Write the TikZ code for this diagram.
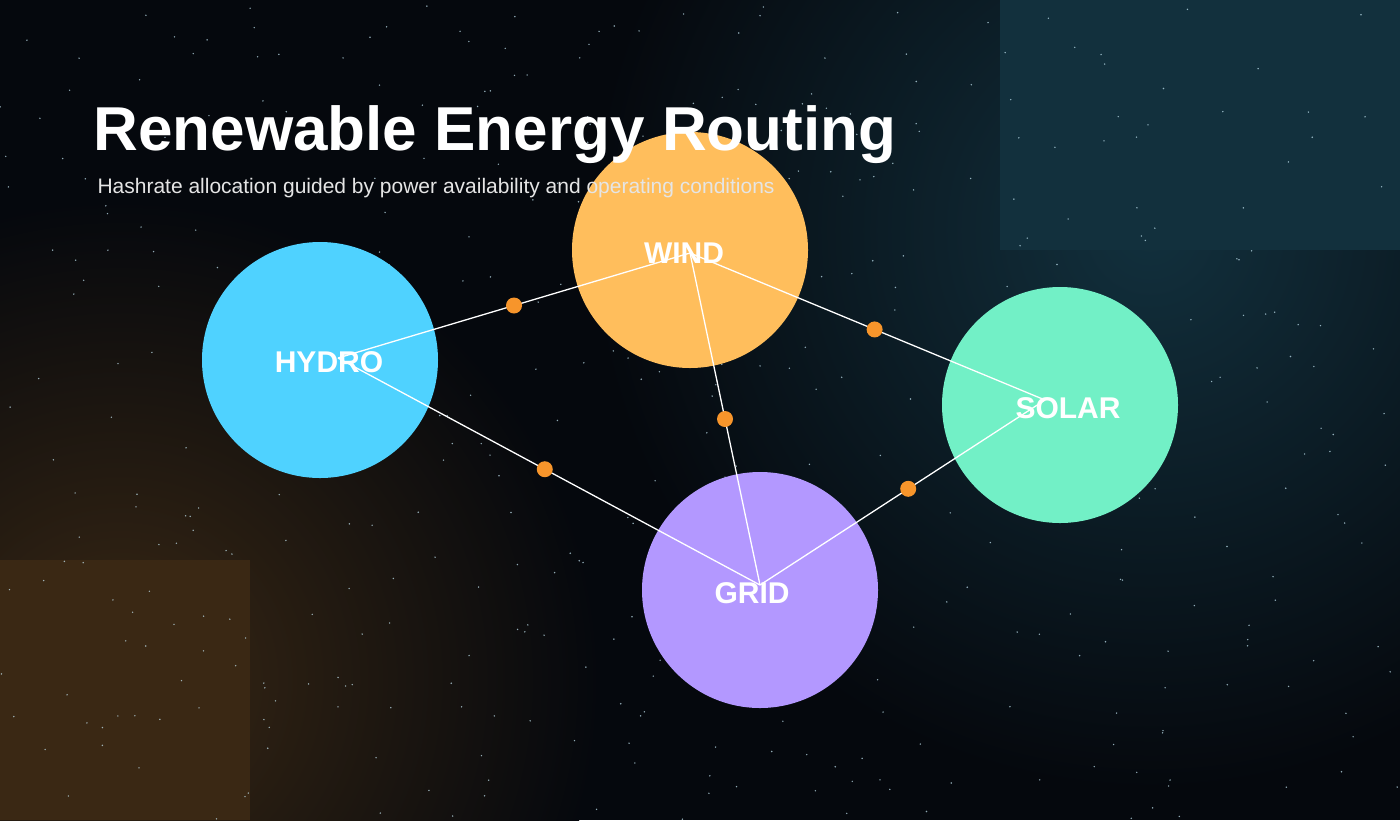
\documentclass[tikz,border=0pt]{standalone}
\usepackage{fontspec}
\setmainfont{Liberation Sans}
\begin{document}
\begin{tikzpicture}[x=1pt,y=-1pt,
  bub/.style={circle,minimum size=236pt,inner sep=0pt},
  lab/.style={text=white,font=\bfseries\fontsize{30}{30}\selectfont},
  link/.style={draw=white,line width=1.3pt},
  dot/.style={circle,fill=dotc,minimum size=16pt,inner sep=0pt}]
\definecolor{bg}{HTML}{05080D}
\definecolor{teal}{HTML}{12303D}
\definecolor{brown}{HTML}{3A2814}
\definecolor{dotc}{HTML}{F7952B}
\definecolor{chydro}{HTML}{4FD2FF}
\definecolor{cwind}{HTML}{FFBE5C}
\definecolor{csolar}{HTML}{72F0C6}
\definecolor{cgrid}{HTML}{B398FF}
\useasboundingbox (0,0) rectangle (1400,820);
\fill[bg] (0,0) rectangle (1400,820);
\begin{scope}
\clip (0,0) rectangle (1400,820);
\shade[inner color=teal,outer color=bg] (1150,230) circle (560);
\fill[teal] (1000,0) rectangle (1400,250);
\shade[inner color=brown,outer color=bg] (120,680) circle (480);
\fill[brown] (0,560) rectangle (250,820);
\pgfmathsetseed{7}
\foreach \i in {1,...,450}{
  \pgfmathsetmacro{\xx}{rnd*1400}\pgfmathsetmacro{\yy}{rnd*820}
  \fill[white!80!cyan,opacity=0.7] (\xx,\yy) circle (0.8);}
\end{scope}
\node[bub,fill=chydro] (hydro) at (320,360) {};
\node[bub,fill=cwind] (wind) at (690,250) {};
\node[bub,fill=csolar] (solar) at (1060,405) {};
\node[bub,fill=cgrid] (grid) at (760,590) {};
\coordinate (h) at (338,358);
\coordinate (w) at (690,253);
\coordinate (s) at (1045,400);
\coordinate (g) at (760,585);
\draw[link] (h) -- (w) node[dot,pos=0.5] {};
\draw[link] (w) -- (s) node[dot,pos=0.52] {};
\draw[link] (w) -- (g) node[dot,pos=0.5] {};
\draw[link] (h) -- (g) node[dot,pos=0.49] {};
\draw[link] (g) -- (s) node[dot,pos=0.52] {};
\node[lab] at (329,362) {HYDRO};
\node[lab] at (684,253) {WIND};
\node[lab] at (1068,408) {SOLAR};
\node[lab] at (752,593) {GRID};
\node[anchor=base west,text=white,font=\bfseries\fontsize{62}{62}\selectfont] (title) at (90,150) {Renewable Energy Routing};
\node[anchor=base west,text=white!80!gray,font=\fontsize{21}{21}\selectfont] (sub) at (94,193) {Hashrate allocation guided by power availability and operating conditions};
\end{tikzpicture}
\end{document}
